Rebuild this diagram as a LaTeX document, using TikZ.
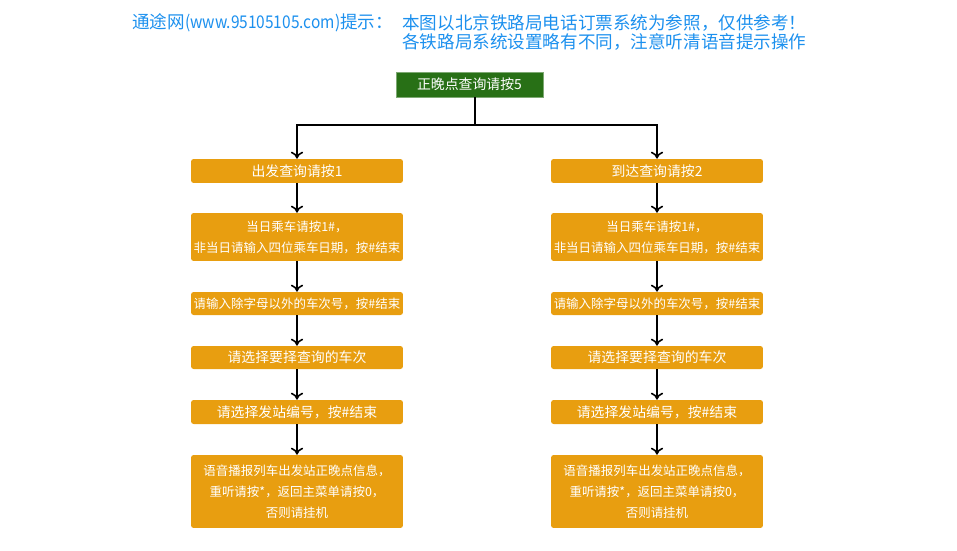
\documentclass[tikz,border=0pt]{standalone}
\usepackage{fontspec}
\newfontfamily\cjk{Noto Sans CJK SC}
\usetikzlibrary{arrows.meta,positioning}
\definecolor{hintcol}{RGB}{28,144,238}
\definecolor{topcol}{RGB}{40,112,22}
\definecolor{boxcol}{RGB}{232,158,16}

\begin{document}
\begin{tikzpicture}[x=0.02cm,y=-0.02cm,
  hint/.style={anchor=west,inner sep=0pt,text=hintcol,font=\cjk\fontsize{10}{12}\selectfont},
  box/.style={fill=boxcol,text=white,rounded corners=1.5pt,minimum width=4.24cm,inner sep=0pt,align=center,font=\cjk\fontsize{7.9}{11.9}\selectfont},
  small/.style={font=\cjk\fontsize{7.1}{11.9}\selectfont},
  flow/.style={-{To[length=4pt,width=7pt]},line width=0.9pt}]
  \useasboundingbox (0,0) rectangle (957,551);
  \node[hint] (hint0) at (132,23) {通途网\scalebox{0.88}[1]{(www.95105105.com)}提示：};
  \node[hint] (hint1) at (402,23) {本图以北京铁路局电话订票系统为参照，仅供参考！};
  \node[hint] (hint2) at (hint1.west |- 0,42) {各铁路局系统设置略有不同，注意听清语音提示操作};
  \node[fill=topcol,draw=topcol!60!white,text=white,inner sep=0pt,minimum width=2.94cm,minimum height=0.5cm,
        font=\cjk\fontsize{7.9}{10}\selectfont] (top) at (469.5,84.5) {正晚点查询请按5};
  \coordinate (split) at (475,125);
  % two columns: departure and arrival
  \foreach \c/\x/\t in {dp/297/出发查询请按1,ar/657/到达查询请按2}{
    \node[box,minimum height=0.48cm] (\c1) at (\x,171) {\t};
    \node[box,small,minimum height=0.96cm] (\c2) at (\x,237) {当日乘车请按1\#，\\非当日请输入四位乘车日期，按\#结束};
    \node[box,small,minimum height=0.46cm] (\c3) at (\x,303.5) {请输入除字母以外的车次号，按\#结束};
    \node[box,minimum height=0.46cm] (\c4) at (\x,357.5) {请选择要择查询的车次};
    \node[box,minimum height=0.48cm] (\c5) at (\x,412) {请选择发站编号，按\#结束};
    \node[box,small,minimum height=1.46cm] (\c6) at (\x,491.5) {语音播报列车出发站正晚点信息，\\重听请按*，返回主菜单请按0，\\否则请挂机};
    \foreach \i [count=\j from 2] in {1,...,5}{\draw[flow] (\c\i) -- (\c\j);}
    \draw[flow] (split) -| (\c1);
  }
  \draw[line width=0.9pt] (top.south -| split) -- (split);
\end{tikzpicture}
\end{document}
